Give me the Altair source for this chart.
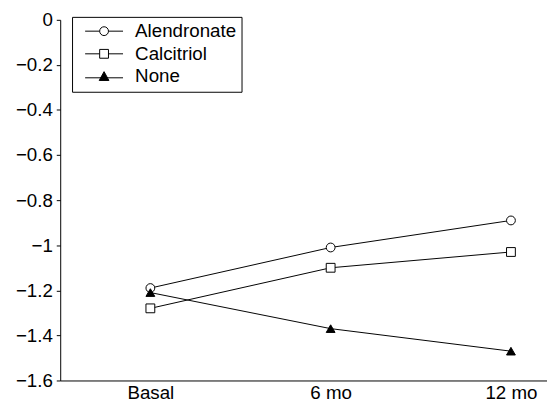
import altair as alt
import pandas as pd

timepoints = ["Basal", "6 mo", "12 mo"]
time_index = [0, 1, 2]
series_names = ["Alendronate", "Calcitriol", "None"]
alendronate = [-1.19, -1.01, -0.89]
calcitriol = [-1.28, -1.10, -1.03]
none_vals = [-1.21, -1.37, -1.47]

# symbols used in the plot, and legend keys (line through symbol)
plot_shapes = ["circle", "square", "triangle-up"]
key_shapes = [
    "M-4.3,0H-1M1,0H4.3M-1,0A1,1 0 1,1 1,0A1,1 0 1,1 -1,0Z",
    "M-4.3,0H-1M1,0H4.3M-1,-1H1V1H-1Z",
    "M-4.3,0.3H4.3M0,-1.1L1.1,0.9H-1.1Z",
]
fills = ["white", "white", "black"]

rows = []
for name, vals in zip(series_names, [alendronate, calcitriol, none_vals]):
    for t, i, v in zip(timepoints, time_index, vals):
        rows.append({"group": name, "series": name, "time": t, "idx": i, "value": v})
df = pd.DataFrame(rows)

font = "Liberation Sans"
fs = 19

x = alt.X("idx:Q",
          scale=alt.Scale(domain=[-0.5, 2.2], nice=False, zero=False),
          axis=alt.Axis(values=time_index, title=None, grid=False, ticks=False,
                        labelExpr="datum.value == 0 ? 'Basal' : datum.value == 1 ? '6 mo' : '12 mo'",
                        labelFontSize=fs, labelPadding=3, domainColor="black",
                        labelColor="black", labelFont=font))
y = alt.Y("value:Q",
          scale=alt.Scale(domain=[-1.6, 0], nice=False, zero=False),
          axis=alt.Axis(values=[0, -0.2, -0.4, -0.6, -0.8, -1.0, -1.2, -1.4, -1.6],
                        format=".1~f", title=None, grid=False, tickSize=4,
                        labelFontSize=fs, labelPadding=4, domainColor="black",
                        tickColor="black", labelColor="black", labelFont=font))

lines = alt.Chart(df).mark_line(strokeWidth=1, color="black").encode(
    x=x, y=y, detail="group:N")

points = alt.Chart(df).mark_point(size=80, strokeWidth=1, opacity=1, filled=False).encode(
    x=x, y=y,
    shape=alt.Shape("group:N", scale=alt.Scale(domain=series_names, range=plot_shapes), legend=None),
    color=alt.Color("group:N", scale=alt.Scale(domain=series_names, range=["black"] * 3), legend=None),
    fill=alt.Fill("group:N", scale=alt.Scale(domain=series_names, range=fills), legend=None),
)

key_legend = alt.Legend(title=None, orient="none", legendX=12, legendY=-3,
                        padding=5, labelFontSize=fs, labelFont=font, labelColor="black",
                        symbolSize=80, rowPadding=3, symbolOffset=18, labelOffset=22,
                        strokeColor="black", symbolStrokeWidth=1)

legend_layer = alt.Chart(df).transform_filter("false").mark_point(
    size=80, strokeWidth=1, opacity=1, filled=False).encode(
    x=x, y=y,
    shape=alt.Shape("series:N", scale=alt.Scale(domain=series_names, range=key_shapes), legend=key_legend),
    color=alt.Color("series:N", scale=alt.Scale(domain=series_names, range=["black"] * 3), legend=key_legend),
    fill=alt.Fill("series:N", scale=alt.Scale(domain=series_names, range=fills), legend=key_legend),
)

chart = alt.layer(lines, points, legend_layer).resolve_scale(
    shape="independent", color="independent", fill="independent"
).properties(
    width=494, height=366,
    autosize=alt.AutoSizeParams(type="none"),
    padding={"left": 53, "top": 9, "right": 0, "bottom": 30},
    background="white",
).configure_view(stroke=None)

chart.save("out.html", embed_options={"renderer": "svg", "actions": False})
